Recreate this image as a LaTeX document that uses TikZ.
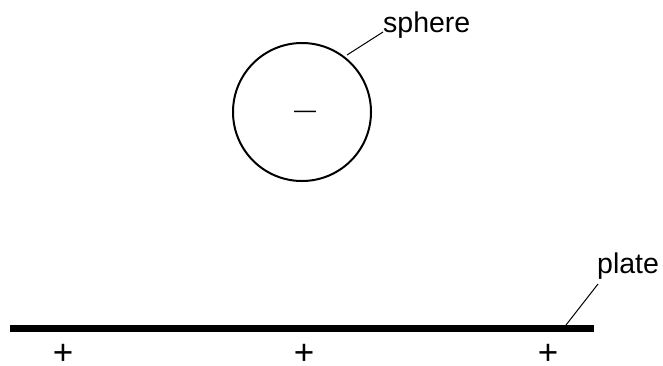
\documentclass[tikz,border=0pt]{standalone}
\usepackage{fontspec}
\setmainfont{Liberation Sans}
\begin{document}
\begin{tikzpicture}[x=1pt,y=-1pt,
  lbl/.style={font=\fontsize{28.5}{32}\selectfont, inner sep=0pt},
  sgn/.style={font=\fontsize{35}{38}\selectfont, inner sep=0pt},
  leader/.style={line width=1pt}]
\useasboundingbox (0,0) rectangle (663,365);
\node[circle, draw, line width=2pt, minimum size=138pt, inner sep=0pt] (sphere) at (302,112) {};
\node[font=\fontsize{22}{26}\selectfont, inner sep=0pt, anchor=base] (minus) at (305,117) {—};
\node[lbl, anchor=base west] (spherelbl) at (383,32) {sphere};
\coordinate (sphereend) at (347,55);
\draw[leader] (sphereend) -- (spherelbl.base west);
\coordinate (pL) at (10,328.5);
\coordinate (pR) at (594,328.5);
\draw[line width=6.5pt] (pL) -- (pR);
\node[lbl, anchor=base west] (platelbl) at (597,273) {plate};
\coordinate (plateend) at (566,325);
\coordinate (platetop) at (598,284);
\draw[leader] (plateend) -- (platetop);
\node[sgn, anchor=base] (p1) at (63,364.8) {+};
\node[sgn, anchor=base] (p2) at (304,364.8) {+};
\node[sgn, anchor=base] (p3) at (548,364.8) {+};
\end{tikzpicture}
\end{document}
